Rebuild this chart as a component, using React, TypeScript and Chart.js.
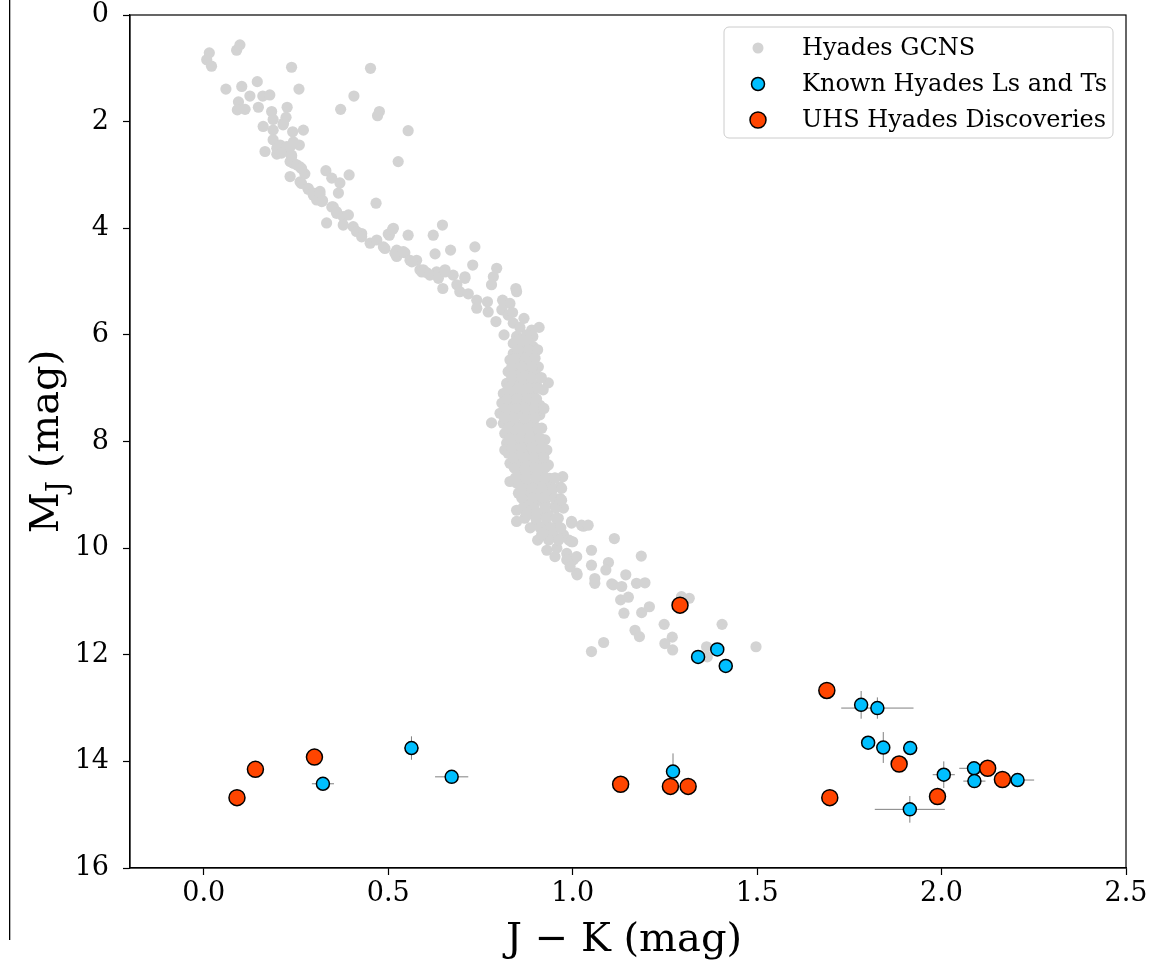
import React, { useEffect, useRef } from "react";
import { Chart, registerables } from "chart.js";

Chart.register(...registerables);

// Hyades GCNS members (J-K, M_J)
const gcnsJK = [
  0.015, 0.008, 0.021, 0.089, 0.098, 0.238, 0.452, 0.060, 0.103, 0.145, 0.258, 0.125, 0.160, 0.179, 0.407,
  0.094, 0.091, 0.112, 0.148, 0.184, 0.226, 0.371, 0.476, 0.471, 0.223, 0.188, 0.216, 0.161, 0.188, 0.241,
  0.270, 0.554, 0.188, 0.207, 0.243, 0.259, 0.166, 0.198, 0.225, 0.238, 0.234, 0.243, 0.261, 0.274, 0.527,
  0.331, 0.347, 0.369, 0.394, 0.261, 0.283, 0.297, 0.315, 0.322, 0.365, 0.467, 0.347, 0.360, 0.333, 0.378,
  0.392, 0.405, 0.428, 0.514, 0.500, 0.554, 0.622, 0.647, 0.451, 0.469, 0.491, 0.523, 0.545, 0.559, 0.577,
  0.627, 0.669, 0.735, 0.729, 0.586, 0.604, 0.631, 0.654, 0.676, 0.708,
  0.215, 0.198, 0.211, 0.234, 0.238, 0.234, 0.252, 0.265, 0.265, 0.283, 0.297, 0.315, 0.306, 0.320, 0.351,
  0.360, 0.378, 0.414, 0.428, 0.503, 0.523, 0.595,
  0.512, 0.487, 0.518, 0.541, 0.564, 0.591, 0.613, 0.636, 0.654, 0.648, 0.686, 0.708, 0.694, 0.717, 0.740,
  0.740, 0.769, 0.785, 0.794, 0.780, 0.846, 0.848, 0.771, 0.792, 0.810, 0.830, 0.808, 0.825, 0.837, 0.814,
  0.839, 0.857, 0.868, 0.889, 0.909, 0.848, 0.875, 0.892, 0.839, 0.866, 0.893, 0.839, 0.862, 0.889, 0.830,
  0.857, 0.884, 0.907, 0.825, 0.848, 0.875, 0.898, 0.821, 0.848, 0.875, 0.902, 0.934, 0.920, 0.812, 0.839,
  0.866, 0.893, 0.808, 0.835, 0.862, 0.889, 0.911, 0.803, 0.830, 0.857, 0.884, 0.911, 0.780, 0.812, 0.839,
  0.866, 0.893, 0.916, 0.816, 0.844, 0.871, 0.898, 0.821, 0.848, 0.875, 0.902, 0.925, 0.816, 0.825, 0.853,
  0.880, 0.907, 0.930, 0.830, 0.857, 0.884, 0.911, 0.934, 0.830, 0.857, 0.884, 0.911, 0.938, 0.973, 0.848,
  0.875, 0.902, 0.930, 0.966, 0.853, 0.880, 0.907, 0.934, 0.966, 0.848, 0.871, 0.898, 0.925, 0.952, 0.975,
  0.848, 0.880, 0.907, 0.934, 0.961, 0.997, 0.902, 0.930, 0.957, 0.920, 0.947, 0.975, 1.000, 0.930, 0.957,
  0.984, 1.002,
  0.852, 0.878, 0.852, 0.880, 0.905, 0.845, 0.872, 0.898, 0.835, 0.862, 0.890, 0.835, 0.862, 0.888, 0.915,
  0.825, 0.852, 0.880, 0.905, 0.822, 0.850, 0.876, 0.902, 0.818, 0.845, 0.872, 0.898, 0.922, 0.815, 0.842,
  0.870, 0.898, 0.825, 0.852, 0.880, 0.905, 0.830, 0.858, 0.885, 0.912, 0.835, 0.862, 0.890, 0.918, 0.840,
  0.868, 0.895, 0.922, 0.842, 0.870, 0.898, 0.925, 0.845, 0.872, 0.900, 0.925, 0.952, 0.860, 0.890, 0.918,
  0.948, 0.862, 0.892, 0.920, 0.950, 0.865, 0.895, 0.925, 0.955, 0.870, 0.900, 0.928, 0.955, 0.885, 0.912,
  0.940, 0.968, 0.905, 0.935, 0.962, 0.990,
  0.966, 0.916, 1.011, 1.029, 1.106,
  0.875, 0.920, 0.952, 0.970, 0.970, 0.997, 1.024, 1.042, 0.997, 0.984, 1.011, 0.993, 1.012, 1.051, 1.051,
  1.060, 1.060, 1.097, 1.090, 1.113, 1.144, 1.110, 1.133, 1.130, 1.151, 1.139, 1.173, 1.196, 1.186, 1.187,
  1.208, 1.169, 1.181, 1.248, 1.270, 1.250, 1.271, 1.084, 1.051, 1.295, 1.316, 1.363, 1.365, 1.405, 1.497,
];
const gcnsMJ = [
  0.71, 0.84, 0.96, 0.66, 0.56, 0.98, 1.00, 1.39, 1.34, 1.25, 1.39, 1.52, 1.52, 1.50, 1.52,
  1.63, 1.78, 1.77, 1.73, 1.81, 1.73, 1.77, 1.81, 1.89, 1.92, 1.96, 2.03, 2.09, 2.16, 2.19,
  2.16, 2.17, 2.34, 2.44, 2.38, 2.44, 2.56, 2.61, 2.47, 2.66, 3.03, 2.78, 2.85, 2.98, 2.75,
  2.92, 3.06, 3.15, 3.00, 3.13, 3.27, 3.38, 3.31, 3.48, 3.34, 3.53, 3.60, 3.69, 3.90, 3.78,
  3.75, 3.97, 4.10, 4.00, 4.11, 4.13, 4.13, 3.94, 4.28, 4.22, 4.38, 4.41, 4.46, 4.60, 4.60,
  4.48, 4.41, 4.35, 4.69, 4.78, 4.83, 4.82, 4.78, 4.88, 4.91,
  2.06, 2.50, 2.59, 2.47, 2.63, 2.75, 2.81, 2.88, 3.16, 3.25, 3.34, 3.36, 3.47, 3.50, 3.60,
  3.72, 3.94, 4.06, 4.16, 4.13, 4.53, 4.78,
  4.02, 4.35, 4.47, 4.44, 4.63, 4.82, 4.88, 4.94, 4.82, 5.13, 5.06, 4.94, 5.19, 5.23, 5.35,
  5.50, 5.38, 4.91, 4.75, 5.06, 5.13, 5.19, 5.57, 5.75, 5.35, 5.41, 5.53, 5.63, 5.58, 6.00,
  5.78, 5.86, 5.69, 5.91, 5.86, 6.03, 6.00, 6.03, 6.16, 6.22, 6.22, 6.35, 6.35, 6.38, 6.47,
  6.53, 6.50, 6.60, 6.69, 6.72, 6.69, 6.72, 6.91, 6.91, 6.91, 6.94, 6.90, 7.03, 7.10, 7.10,
  7.10, 7.13, 7.28, 7.28, 7.28, 7.28, 7.32, 7.47, 7.47, 7.47, 7.47, 7.50, 7.65, 7.66, 7.66,
  7.66, 7.67, 7.75, 7.85, 7.85, 7.85, 7.88, 8.03, 8.03, 8.03, 8.05, 7.97, 8.16, 8.22, 8.22,
  8.22, 8.22, 8.16, 8.41, 8.41, 8.41, 8.41, 8.44, 8.75, 8.60, 8.60, 8.60, 8.69, 8.66, 8.78,
  8.78, 8.78, 8.82, 8.85, 8.97, 8.97, 8.97, 9.00, 9.07, 9.29, 9.16, 9.16, 9.16, 9.22, 9.25,
  9.50, 9.35, 9.35, 9.38, 9.44, 9.50, 9.53, 9.57, 9.60, 9.72, 9.75, 9.75, 9.88, 10.04, 10.00,
  10.10, 10.22,
  6.10, 6.10, 6.28, 6.28, 6.28, 6.44, 6.44, 6.44, 6.60, 6.60, 6.60, 6.80, 6.80, 6.80, 6.80,
  7.00, 7.00, 7.00, 7.00, 7.20, 7.20, 7.20, 7.20, 7.38, 7.38, 7.38, 7.38, 7.38, 7.56, 7.56,
  7.56, 7.56, 7.75, 7.75, 7.75, 7.75, 7.94, 7.94, 7.94, 7.94, 8.12, 8.12, 8.12, 8.12, 8.30,
  8.30, 8.30, 8.30, 8.50, 8.50, 8.50, 8.50, 8.68, 8.68, 8.68, 8.68, 8.68, 8.88, 8.88, 8.88,
  8.88, 9.06, 9.06, 9.06, 9.06, 9.25, 9.25, 9.25, 9.25, 9.44, 9.44, 9.44, 9.44, 9.62, 9.62,
  9.62, 9.62, 9.85, 9.85, 9.85, 9.85,
  9.10, 9.75, 10.47, 9.59, 10.67,
  9.35, 9.72, 10.16, 8.88, 9.10, 9.53, 9.57, 9.57, 9.88, 10.22, 10.16, 10.35, 10.50, 10.04, 10.32,
  10.57, 10.66, 10.27, 10.41, 9.82, 10.50, 10.69, 10.72, 10.97, 10.92, 11.22, 10.66, 10.65, 10.15, 11.21,
  11.10, 11.54, 11.66, 11.43, 11.67, 11.79, 11.91, 11.77, 11.94, 10.91, 10.94, 11.85, 12.04, 11.43, 11.85,
];

// Known Hyades L and T dwarfs, with error bars
const knownJK = [0.323, 0.563, 0.672, 1.272, 1.340, 1.392, 1.415, 1.782, 1.826, 1.801, 1.842, 1.915, 2.006, 2.088, 2.089, 2.206, 1.914];
const knownMJ = [14.42, 13.75, 14.29, 14.19, 12.04, 11.90, 12.21, 12.94, 13.00, 13.65, 13.74, 13.75, 14.25, 14.13, 14.37, 14.35, 14.90];
const knownJKerr = [0.03, 0.02, 0.045, 0.01, 0.01, 0.01, 0.01, 0.01, 0.098, 0.01, 0.01, 0.01, 0.03, 0.04, 0.03, 0.045, 0.095];
const knownMJerr = [0.05, 0.22, 0.03, 0.34, 0.05, 0.05, 0.05, 0.26, 0.2, 0.05, 0.29, 0.05, 0.25, 0.05, 0.05, 0.05, 0.25];

// UHS Hyades discoveries
const uhsJK = [0.09, 0.14, 0.30, 1.13, 1.265, 1.313, 1.291, 1.689, 1.697, 1.885, 1.989, 2.125, 2.165];
const uhsMJ = [14.68, 14.15, 13.92, 14.43, 14.47, 14.47, 11.07, 12.67, 14.68, 14.05, 14.66, 14.13, 14.34];

const xTicks = [0.0, 0.5, 1.0, 1.5, 2.0, 2.5];
const yTicks = [0, 2, 4, 6, 8, 10, 12, 14, 16];

const legendLabels = ["Hyades GCNS", "Known Hyades Ls and Ts", "UHS Hyades Discoveries"];

const GREY = "#d3d3d3";
const BLUE = "#00bfff";
const ORANGE = "#ff4500";
const FONT = "'DejaVu Serif', serif";

const zip = (xs: number[], ys: number[]) => xs.map((x, i) => ({ x, y: ys[i] }));

export default function App() {
  const ref = useRef<HTMLCanvasElement | null>(null);

  useEffect(() => {
    const canvas = ref.current;
    if (!canvas) return;

    const decor = {
      id: "decor",
      beforeDatasetsDraw(chart: any) {
        const { ctx, scales } = chart;
        const xs = scales.x;
        const ys = scales.y;
        ctx.save();
        ctx.strokeStyle = "#808080";
        ctx.lineWidth = 1;
        for (let i = 0; i < knownJK.length; i++) {
          const cx = xs.getPixelForValue(knownJK[i]);
          const cy = ys.getPixelForValue(knownMJ[i]);
          const x0 = xs.getPixelForValue(knownJK[i] - knownJKerr[i]);
          const x1 = xs.getPixelForValue(knownJK[i] + knownJKerr[i]);
          const y0 = ys.getPixelForValue(knownMJ[i] - knownMJerr[i]);
          const y1 = ys.getPixelForValue(knownMJ[i] + knownMJerr[i]);
          ctx.beginPath();
          ctx.moveTo(x0, cy);
          ctx.lineTo(x1, cy);
          ctx.moveTo(cx, y0);
          ctx.lineTo(cx, y1);
          ctx.stroke();
        }
        ctx.restore();
      },
      afterDraw(chart: any) {
        const { ctx, chartArea } = chart;
        ctx.save();
        // frame
        ctx.strokeStyle = "#000";
        ctx.lineWidth = 1.2;
        ctx.strokeRect(chartArea.left, chartArea.top, chartArea.right - chartArea.left, chartArea.bottom - chartArea.top);

        // stray left border from cropped figure
        ctx.fillStyle = "#000";
        ctx.fillRect(9, 0, 1.3, 940);

        // x title
        ctx.fillStyle = "#000";
        ctx.font = `40px ${FONT}`;
        ctx.textAlign = "center";
        ctx.textBaseline = "alphabetic";
        ctx.fillText("J \u2212 K (mag)", (chartArea.left + chartArea.right) / 2 - 4, 951);

        // y title with subscript
        ctx.translate(58, (chartArea.top + chartArea.bottom) / 2);
        ctx.rotate(-Math.PI / 2);
        ctx.textAlign = "left";
        const big = `40px ${FONT}`;
        const small = `28px ${FONT}`;
        ctx.font = big;
        const wM = ctx.measureText("M").width;
        const wR = ctx.measureText(" (mag)").width;
        ctx.font = small;
        const wJ = ctx.measureText("J").width;
        const total = wM + wJ + wR;
        let x = -total / 2;
        ctx.font = big;
        ctx.fillText("M", x, 0);
        x += wM;
        ctx.font = small;
        ctx.fillText("J", x, 8);
        x += wJ;
        ctx.font = big;
        ctx.fillText(" (mag)", x, 0);
        ctx.restore();

        // legend
        ctx.save();
        const bx = 724, by = 27, bw = 389, bh = 111, r = 5;
        ctx.beginPath();
        ctx.moveTo(bx + r, by);
        ctx.arcTo(bx + bw, by, bx + bw, by + bh, r);
        ctx.arcTo(bx + bw, by + bh, bx, by + bh, r);
        ctx.arcTo(bx, by + bh, bx, by, r);
        ctx.arcTo(bx, by, bx + bw, by, r);
        ctx.closePath();
        ctx.fillStyle = "rgba(255,255,255,0.8)";
        ctx.fill();
        ctx.strokeStyle = "#cccccc";
        ctx.lineWidth = 1;
        ctx.stroke();

        const rows = [48, 84, 120];
        const styles = [
          { c: GREY, rad: 5.5, bw: 0 },
          { c: BLUE, rad: 6.5, bw: 1.5 },
          { c: ORANGE, rad: 8, bw: 1.5 },
        ];
        rows.forEach((ry, i) => {
          const s = styles[i];
          ctx.beginPath();
          ctx.arc(758, ry, s.rad, 0, Math.PI * 2);
          ctx.fillStyle = s.c;
          ctx.fill();
          if (s.bw) {
            ctx.lineWidth = s.bw;
            ctx.strokeStyle = "#000";
            ctx.stroke();
          }
          ctx.fillStyle = "#000";
          ctx.font = `24px ${FONT}`;
          ctx.textAlign = "left";
          ctx.textBaseline = "middle";
          ctx.fillText(legendLabels[i], 802, ry + 1);
        });
        ctx.restore();
      },
    };

    const chart = new Chart(canvas, {
      type: "scatter",
      data: {
        datasets: [
          {
            label: legendLabels[2],
            data: zip(uhsJK, uhsMJ),
            backgroundColor: ORANGE,
            borderColor: "#000",
            borderWidth: 1.5,
            pointRadius: 8,
          },
          {
            label: legendLabels[1],
            data: zip(knownJK, knownMJ),
            backgroundColor: BLUE,
            borderColor: "#000",
            borderWidth: 1.5,
            pointRadius: 6.5,
          },
          {
            label: legendLabels[0],
            data: zip(gcnsJK, gcnsMJ),
            backgroundColor: GREY,
            borderWidth: 0,
            pointRadius: 5.6,
          },
        ],
      },
      options: {
        responsive: false,
        animation: false,
        events: [],
        layout: { padding: { left: 0, top: 15, right: 34, bottom: 0 } },
        plugins: { legend: { display: false }, tooltip: { enabled: false } },
        scales: {
          x: {
            type: "linear",
            min: -0.2,
            max: 2.5,
            afterBuildTicks: (s: any) => {
              s.ticks = xTicks.map((v) => ({ value: v }));
            },
            afterFit: (s: any) => {
              s.height = 95;
              s.paddingLeft = 0;
              s.paddingRight = 0;
            },
            ticks: {
              color: "#000",
              font: { family: FONT, size: 27 },
              padding: 3,
              callback: (v: any) => Number(v).toFixed(1),
            },
            grid: { drawOnChartArea: false, drawTicks: true, tickLength: 7, tickColor: "#000", tickWidth: 1.2 },
            border: { display: true, color: "#000", width: 1.2 },
          },
          y: {
            type: "linear",
            reverse: true,
            min: 0,
            max: 16,
            afterBuildTicks: (s: any) => {
              s.ticks = yTicks.map((v) => ({ value: v }));
            },
            afterFit: (s: any) => {
              s.width = 130;
              s.paddingTop = 0;
              s.paddingBottom = 0;
            },
            ticks: {
              color: "#000",
              font: { family: FONT, size: 27 },
              padding: 14,
              callback: (v: any) => String(v),
            },
            grid: { drawOnChartArea: false, drawTicks: true, tickLength: 7, tickColor: "#000", tickWidth: 1.2 },
            border: { display: true, color: "#000", width: 1.2 },
          },
        },
      },
      plugins: [decor],
    });

    return () => chart.destroy();
  }, []);

  return (
    <div style={{ position: "absolute", left: 0, top: 0, width: 1160, height: 963, background: "#fff" }}>
      <canvas ref={ref} width={1160} height={963} style={{ display: "block", width: 1160, height: 963 }} />
    </div>
  );
}
